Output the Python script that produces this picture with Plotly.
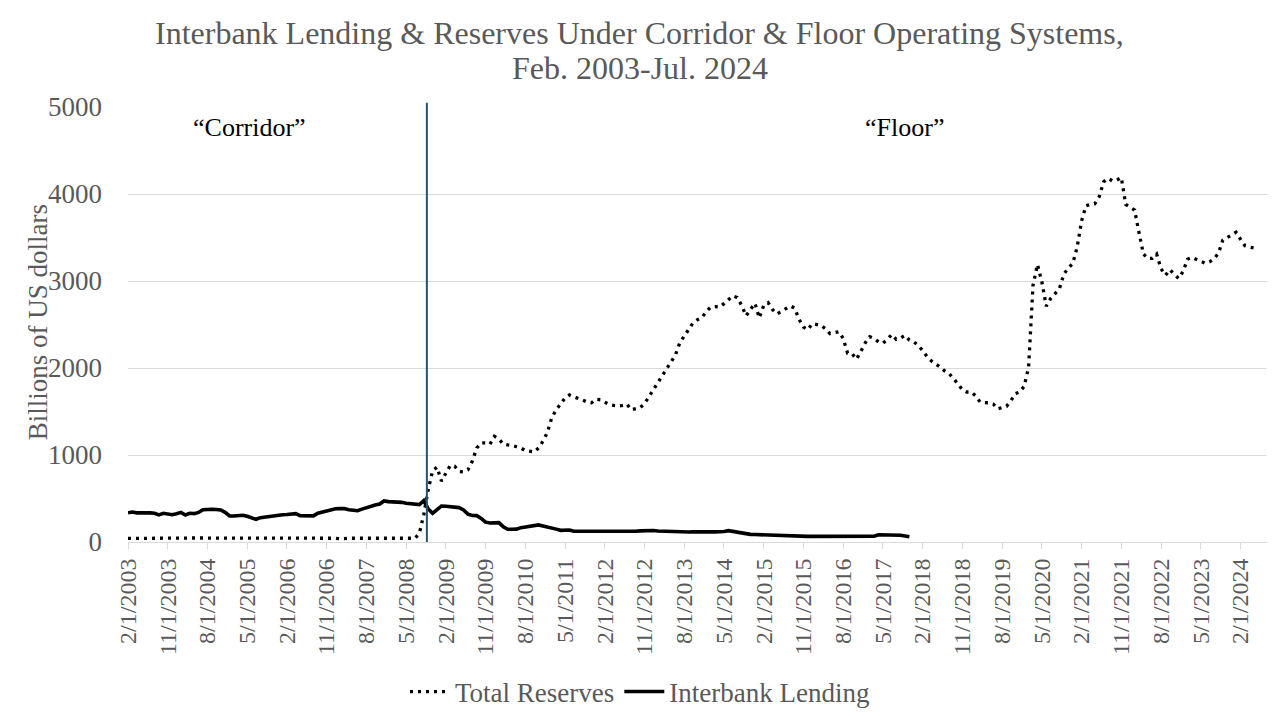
import plotly.graph_objects as go

# ---- data (monthly, Feb 2003 .. Jul 2024), billions of US dollars ----
start_year, start_month, n_months = 2003, 2, 258
months = []
y, m = start_year, start_month
for _ in range(n_months):
    months.append(f"{m}/1/{y}")
    m += 1
    if m > 12:
        m = 1
        y += 1

total_reserves = [
    # 2003 Feb-Dec
    42, 41, 36, 42, 43, 42, 43, 42, 43, 43, 44,
    # 2004
    44, 45, 45, 46, 46, 46, 45, 46, 46, 46, 46, 46,
    # 2005
    46, 46, 46, 45, 45, 45, 45, 45, 45, 45, 45, 45,
    # 2006
    45, 44, 44, 44, 44, 44, 44, 44, 44, 44, 43, 43,
    # 2007
    43, 36, 43, 43, 43, 43, 43, 43, 43, 43, 43, 43,
    # 2008
    43, 43, 43, 43, 43, 43, 43, 100, 315, 600, 820,
    # 2009
    860, 700, 790, 880, 870, 810, 805, 830, 930, 1080, 1140, 1140,
    # 2010
    1125, 1215, 1185, 1125, 1115, 1110, 1095, 1080, 1050, 1040, 1035, 1080,
    # 2011
    1160, 1260, 1430, 1520, 1590, 1655, 1690, 1670, 1650, 1625, 1610, 1600,
    # 2012
    1640, 1635, 1610, 1580, 1570, 1562, 1570, 1585, 1520, 1530, 1545, 1590,
    # 2013
    1670, 1750, 1830, 1905, 1985, 2065, 2150, 2290, 2370, 2450, 2520, 2555,
    # 2014
    2580, 2650, 2700, 2705, 2700, 2740, 2780, 2830, 2810, 2720, 2600, 2680,
    # 2015
    2745, 2575, 2720, 2750, 2670, 2620, 2650, 2680, 2712, 2690, 2560, 2470,
    # 2016
    2440, 2510, 2500, 2490, 2450, 2395, 2405, 2417, 2340, 2170, 2165, 2100,
    # 2017
    2190, 2290, 2360, 2340, 2300, 2285, 2330, 2385, 2330, 2345, 2375, 2320,
    # 2018
    2300, 2260, 2200, 2130, 2080, 2050, 2010, 1965, 1935, 1880, 1815, 1750,
    # 2019
    1724, 1724, 1680, 1610, 1602, 1600, 1585, 1530, 1545, 1560, 1625, 1705,
    # 2020
    1725, 1790, 2010, 2950, 3190, 2990, 2710, 2800, 2855, 2915, 3080, 3150,
    # 2021
    3200, 3390, 3690, 3865, 3880, 3888, 3970, 4140, 4180, 4150, 4160, 4190,
    # 2022
    3880, 3850, 3815, 3560, 3310, 3260, 3260, 3310, 3140, 3065, 3130, 3076,
    # 2023
    3030, 3110, 3250, 3270, 3245, 3225, 3205, 3220, 3255, 3320, 3470, 3500,
    # 2024 Jan-Jul
    3525, 3560, 3480, 3405, 3390, 3380, 3370,
]

interbank_lending = [
    # 2003 Feb-Dec
    335, 345, 335, 338, 341, 335, 330, 311, 330, 318, 314,
    # 2004
    326, 341, 311, 330, 326, 340, 370, 376, 376, 374, 368, 341,
    # 2005
    299, 299, 299, 307, 295, 280, 261, 280, 288, 295, 307, 312,
    # 2006
    314, 316, 318, 326, 303, 299, 299, 300, 330, 345, 357, 376,
    # 2007
    382, 384, 384, 370, 368, 360, 378, 395, 414, 425, 437, 472,
    # 2008
    464, 462, 458, 456, 445, 437, 428, 430, 475, 380, 330,
    # 2009
    376, 414, 410, 407, 400, 395, 368, 320, 305, 303, 272, 228,
    # 2010
    218, 215, 222, 176, 146, 146, 148, 165, 172, 184, 192, 196,
    # 2011
    184, 175, 161, 148, 134, 136, 138, 123, 123, 123, 122, 120,
    # 2012
    119, 118, 115, 115, 115, 115, 115, 118, 120, 123, 128, 132,
    # 2013
    134, 132, 127, 124, 122, 118, 116, 115, 115, 115, 116, 118,
    # 2014
    119, 118, 117, 116, 115, 120, 130, 122, 111, 100, 90, 88,
    # 2015
    86, 84, 82, 78, 73, 70, 67, 65, 65, 65, 65, 65,
    # 2016
    65, 65, 65, 65, 65, 65, 65, 65, 65, 65, 65, 65,
    # 2017
    65, 65, 65, 66, 84, 84, 84, 84, 83, 78, 70, 61,
]

title_lines = [
    "Interbank Lending & Reserves Under Corridor & Floor Operating Systems,",
    "Feb. 2003-Jul. 2024",
]

tick_every = 9
tick_vals = months[::tick_every]
regime_switch_index = 67.7  # Sep/Oct 2008

GREY = "#595959"
FONT = "Liberation Serif"

fig = go.Figure()
fig.add_trace(go.Scatter(
    x=months, y=total_reserves, mode="lines", name="Total Reserves",
    line=dict(color="black", width=3.3, dash="3px,5px"),
))
fig.add_trace(go.Scatter(
    x=months[:len(interbank_lending)], y=interbank_lending, mode="lines",
    name="Interbank Lending",
    line=dict(color="black", width=3.6),
))

fig.add_shape(type="line", xref="x", yref="paper",
              x0=regime_switch_index, x1=regime_switch_index, y0=0, y1=1.01,
              line=dict(color="#1F5770", width=2))

# chart title (two lines)
for line_text, ypos in zip(title_lines, [1.170, 1.0897]):
    fig.add_annotation(
        text=line_text, xref="paper", yref="paper", x=0.4495, y=ypos,
        xanchor="center", yanchor="middle", showarrow=False,
        font=dict(family=FONT, size=32, color=GREY),
    )
# y-axis title
fig.add_annotation(
    text="Billions of US dollars", textangle=-90,
    xref="paper", yref="paper", x=-0.0795, y=0.506,
    xanchor="center", yanchor="middle", showarrow=False,
    font=dict(family=FONT, size=27, color=GREY),
)
fig.add_annotation(text="“Corridor”", xref="paper", yref="paper",
                   x=0.107, y=0.954, xanchor="center", yanchor="middle",
                   showarrow=False,
                   font=dict(family=FONT, size=26, color="black"))
fig.add_annotation(text="“Floor”", xref="paper", yref="paper",
                   x=0.682, y=0.954, xanchor="center", yanchor="middle",
                   showarrow=False,
                   font=dict(family=FONT, size=26, color="black"))

fig.update_layout(
    width=1264, height=704,
    paper_bgcolor="white", plot_bgcolor="white",
    margin=dict(l=120, r=5, t=99, b=170),
    font=dict(family=FONT, color=GREY),
    showlegend=True,
    legend=dict(
        orientation="h", xref="container", yref="container",
        x=0.5, xanchor="center", y=1 - 684 / 704, yanchor="middle",
        font=dict(family=FONT, size=27, color=GREY),
        itemwidth=40, tracegroupgap=0,
    ),
    xaxis=dict(
        type="category", categoryorder="array", categoryarray=months,
        range=[0, n_months],
        tickmode="array", tickvals=tick_vals, ticktext=tick_vals,
        tickangle=-90, tickfont=dict(family=FONT, size=24, color=GREY),
        ticks="outside", ticklen=6, tickcolor="#d9d9d9",
        showgrid=False, showline=True, linecolor="#d9d9d9", linewidth=1,
        zeroline=False,
    ),
    yaxis=dict(
        range=[0, 5000], tickvals=[0, 1000, 2000, 3000, 4000, 5000],
        tickfont=dict(family=FONT, size=27, color=GREY),
        showgrid=True, gridcolor="#d9d9d9", gridwidth=1,
        zeroline=False, showline=False, ticks="",
        ticklabelstandoff=25,
    ),
)

fig.write_html("out.html")
